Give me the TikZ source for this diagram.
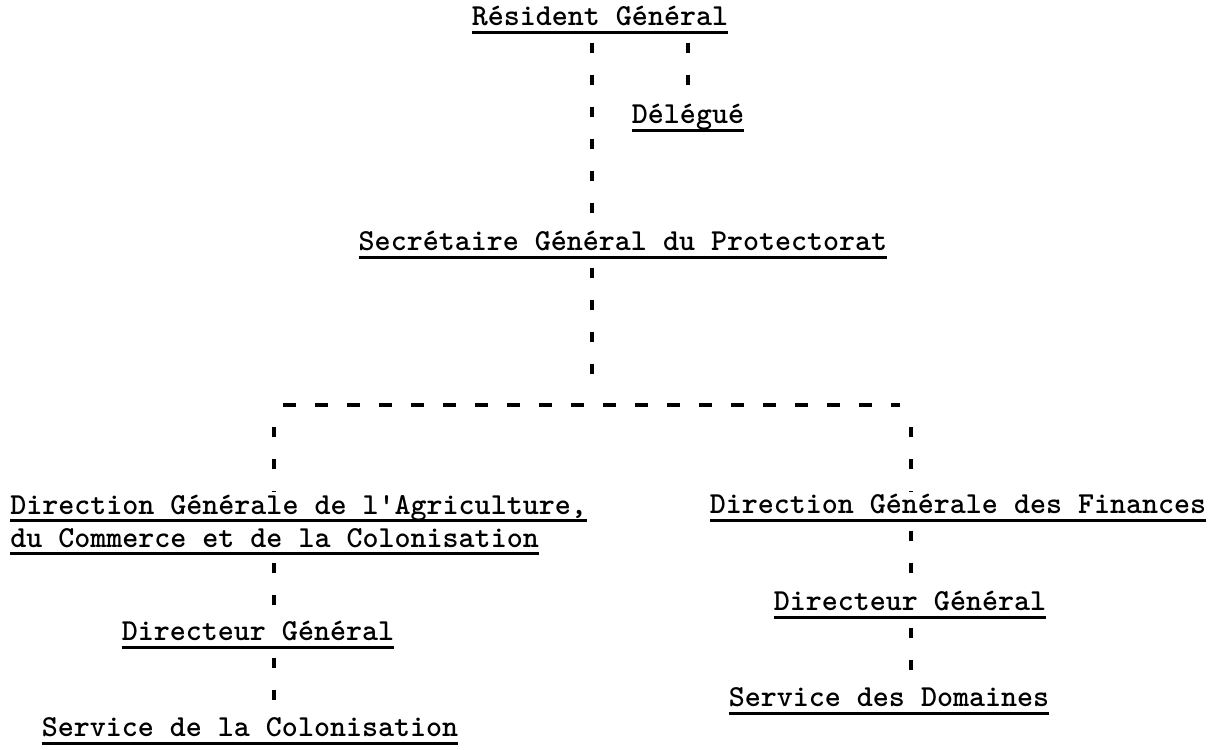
\documentclass[tikz,border=0pt]{standalone}
\usepackage{tikz}
\newcommand{\typefont}{\ttfamily\bfseries\fontsize{21.7pt}{23.5pt}\selectfont}
\newcommand{\undl}[1]{\setbox0\hbox{#1}\rlap{\rule[-5.5pt]{\wd0}{2pt}}\box0}
\tikzstyle{office} = [inner sep=0pt, text centered, text height=16pt, text depth=6pt, font=\typefont]
\tikzstyle{office2} = [inner sep=0pt, align=left, font=\typefont]
\tikzstyle{tick} = [line width=2.8pt, dash pattern=on 0.25cm off 0.55cm, dash phase=0.6cm]
\tikzstyle{dashline} = [line width=2.8pt, dash pattern=on 0.325cm off 0.475cm]
\begin{document}
\begin{tikzpicture}[node distance=2cm]
\useasboundingbox[fill=white] (-15,0.4725) rectangle (15.3,-18.2525);
\node (rg) [office] {\undl{Résident Général}};
\node (del) [office, below of=rg, xshift=2.2cm, yshift=-0.45cm] {\undl{Délégué}};
\node (sec) [office, below of=del, xshift=-1.625cm, yshift=-1.175cm] {\undl{Secrétaire Général du Protectorat}};
\coordinate [below of=sec, xshift=-8.5cm, yshift=-2.03cm] (hl);
\coordinate [below of=sec, xshift=6.925cm, yshift=-2.03cm] (hr);
\node (dirag) [office2, below of=sec, anchor=north west, xshift=-15.325cm, yshift=-4.19cm] {\rule{0pt}{16pt}\undl{Direction Générale de l'Agriculture,}\\\undl{du Commerce et de la Colonisation}};
\node (dirfin) [office, below of=sec, xshift=8.375cm, yshift=-4.575cm] {\undl{Direction Générale des Finances}};
\node (dgr) [office, below of=dirfin, xshift=-1.2cm, yshift=-0.425cm] {\undl{Directeur Général}};
\node (sdom) [office, below of=dgr, xshift=-0.525cm, yshift=-0.4cm] {\undl{Service des Domaines}};
\node (dgl) [office, left of=dgr, xshift=-14.3cm, yshift=-0.75cm] {\undl{Directeur Général}};
\node (scol) [office, below of=dgl, xshift=-0.2cm, yshift=-0.4cm] {\undl{Service de la Colonisation}};

\draw [tick] ([xshift=-0.2cm]rg.south) -- ([xshift=-0.2cm]rg.south |- sec.north);
\draw [tick] (rg.south -| del.north) -- (del.north);
\draw [tick, shorten >=0.3cm] ([xshift=-0.2cm]rg.south |- sec.south) -- ([xshift=-0.2cm]rg.south |- hl);
\draw [dashline] (hl) -- (hr);
\draw [tick, shorten <=0.35cm] ([xshift=-0.225cm]hl) -- ([xshift=-0.225cm]hl |- dirag.north);
\draw [tick, shorten <=0.35cm] ([xshift=0.275cm]hr) -- ([xshift=0.275cm]hr |- dirfin.north);
\draw [tick] ([xshift=-0.225cm]hl |- dirag.south) -- ([xshift=-0.225cm]hl |- dgl.north);
\draw [tick] ([xshift=-0.225cm]hl |- dgl.south) -- ([xshift=-0.225cm]hl |- scol.north);
\draw [tick] ([xshift=0.275cm]hr |- dirfin.south) -- ([xshift=0.275cm]hr |- dgr.north);
\draw [tick] ([xshift=0.275cm]hr |- dgr.south) -- ([xshift=0.275cm]hr |- sdom.north);
\end{tikzpicture}
\end{document}
